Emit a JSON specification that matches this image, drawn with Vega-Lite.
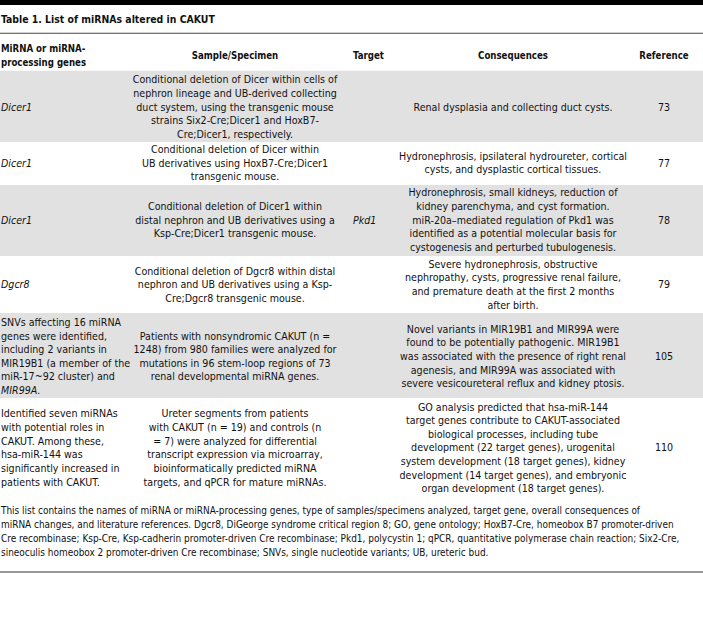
{
  "$schema": "https://vega.github.io/schema/vega-lite/v6.json",
  "width": 703,
  "height": 627,
  "padding": 0,
  "autosize": {"type": "none"},
  "background": "white",
  "config": {"view": {"stroke": null}},
  "datasets": {
    "bands": [
      {"kind": "topbar", "top": 0, "bottom": 0.37},
      {"kind": "shade", "top": 5.19, "bottom": 10.42},
      {"kind": "shade", "top": 13.57, "bottom": 18.78},
      {"kind": "shade", "top": 22.96, "bottom": 29.2}
    ],
    "rules": [
      {"kind": "under", "ln": 2.44},
      {"kind": "bottom", "ln": 41.97}
    ],
    "lines": [
      {"part": "title", "col": "c1", "x": 0.14, "ln": 1.45, "it": false, "text": "Table 1. List of miRNAs altered in CAKUT"},
      {"part": "head", "col": "c1", "x": 0.14, "ln": 3.6, "it": false, "text": "MiRNA or miRNA-"},
      {"part": "head", "col": "c1", "x": 0.14, "ln": 4.62, "it": false, "text": "processing genes"},
      {"part": "head", "col": "c2", "x": 33.43, "ln": 4.11, "it": false, "text": "Sample/Specimen"},
      {"part": "head", "col": "c3", "x": 50.21, "ln": 4.11, "it": false, "text": "Target"},
      {"part": "head", "col": "c4", "x": 72.97, "ln": 4.11, "it": false, "text": "Consequences"},
      {"part": "head", "col": "c5", "x": 94.45, "ln": 4.11, "it": false, "text": "Reference"},

      {"part": "body", "col": "c1", "x": 0.14, "ln": 7.89, "it": true, "text": "Dicer1"},
      {"part": "body", "col": "c2", "x": 33.43, "ln": 5.89, "it": false, "text": "Conditional deletion of Dicer within cells of"},
      {"part": "body", "col": "c2", "x": 33.43, "ln": 6.89, "it": false, "text": "nephron lineage and UB-derived collecting"},
      {"part": "body", "col": "c2", "x": 33.43, "ln": 7.89, "it": false, "text": "duct system, using the transgenic mouse"},
      {"part": "body", "col": "c2", "x": 33.43, "ln": 8.89, "it": false, "text": "strains Six2-Cre;Dicer1 and HoxB7-"},
      {"part": "body", "col": "c2", "x": 33.43, "ln": 9.89, "it": false, "text": "Cre;Dicer1, respectively."},
      {"part": "body", "col": "c4", "x": 72.97, "ln": 7.89, "it": false, "text": "Renal dysplasia and collecting duct cysts."},
      {"part": "body", "col": "c5", "x": 94.45, "ln": 7.89, "it": false, "text": "73"},

      {"part": "body", "col": "c1", "x": 0.14, "ln": 12.0, "it": true, "text": "Dicer1"},
      {"part": "body", "col": "c2", "x": 33.43, "ln": 11.0, "it": false, "text": "Conditional deletion of Dicer within"},
      {"part": "body", "col": "c2", "x": 33.43, "ln": 12.0, "it": false, "text": "UB derivatives using HoxB7-Cre;Dicer1"},
      {"part": "body", "col": "c2", "x": 33.43, "ln": 13.0, "it": false, "text": "transgenic mouse."},
      {"part": "body", "col": "c4", "x": 72.97, "ln": 11.5, "it": false, "text": "Hydronephrosis, ipsilateral hydroureter, cortical"},
      {"part": "body", "col": "c4", "x": 72.97, "ln": 12.5, "it": false, "text": "cysts, and dysplastic cortical tissues."},
      {"part": "body", "col": "c5", "x": 94.45, "ln": 12.0, "it": false, "text": "77"},

      {"part": "body", "col": "c1", "x": 0.14, "ln": 16.18, "it": true, "text": "Dicer1"},
      {"part": "body", "col": "c2", "x": 33.43, "ln": 15.18, "it": false, "text": "Conditional deletion of Dicer1 within"},
      {"part": "body", "col": "c2", "x": 33.43, "ln": 16.18, "it": false, "text": "distal nephron and UB derivatives using a"},
      {"part": "body", "col": "c2", "x": 33.43, "ln": 17.18, "it": false, "text": "Ksp-Cre;Dicer1 transgenic mouse."},
      {"part": "body", "col": "c3", "x": 50.21, "ln": 16.18, "it": true, "text": "Pkd1"},
      {"part": "body", "col": "c4", "x": 72.97, "ln": 14.18, "it": false, "text": "Hydronephrosis, small kidneys, reduction of"},
      {"part": "body", "col": "c4", "x": 72.97, "ln": 15.18, "it": false, "text": "kidney parenchyma, and cyst formation."},
      {"part": "body", "col": "c4", "x": 72.97, "ln": 16.18, "it": false, "text": "miR-20a–mediated regulation of Pkd1 was"},
      {"part": "body", "col": "c4", "x": 72.97, "ln": 17.18, "it": false, "text": "identified as a potential molecular basis for"},
      {"part": "body", "col": "c4", "x": 72.97, "ln": 18.18, "it": false, "text": "cystogenesis and perturbed tubulogenesis."},
      {"part": "body", "col": "c5", "x": 94.45, "ln": 16.18, "it": false, "text": "78"},

      {"part": "body", "col": "c1", "x": 0.14, "ln": 20.93, "it": true, "text": "Dgcr8"},
      {"part": "body", "col": "c2", "x": 33.43, "ln": 19.93, "it": false, "text": "Conditional deletion of Dgcr8 within distal"},
      {"part": "body", "col": "c2", "x": 33.43, "ln": 20.93, "it": false, "text": "nephron and UB derivatives using a Ksp-"},
      {"part": "body", "col": "c2", "x": 33.43, "ln": 21.93, "it": false, "text": "Cre;Dgcr8 transgenic mouse."},
      {"part": "body", "col": "c4", "x": 72.97, "ln": 19.43, "it": false, "text": "Severe hydronephrosis, obstructive"},
      {"part": "body", "col": "c4", "x": 72.97, "ln": 20.43, "it": false, "text": "nephropathy, cysts, progressive renal failure,"},
      {"part": "body", "col": "c4", "x": 72.97, "ln": 21.43, "it": false, "text": "and premature death at the first 2 months"},
      {"part": "body", "col": "c4", "x": 72.97, "ln": 22.43, "it": false, "text": "after birth."},
      {"part": "body", "col": "c5", "x": 94.45, "ln": 20.93, "it": false, "text": "79"},

      {"part": "body", "col": "c1", "x": 0.14, "ln": 23.69, "it": false, "text": "SNVs affecting 16 miRNA"},
      {"part": "body", "col": "c1", "x": 0.14, "ln": 24.69, "it": false, "text": "genes were identified,"},
      {"part": "body", "col": "c1", "x": 0.14, "ln": 25.69, "it": false, "text": "including 2 variants in"},
      {"part": "body", "col": "c1", "x": 0.14, "ln": 26.69, "it": false, "text": "MIR19B1 (a member of the"},
      {"part": "body", "col": "c1", "x": 0.14, "ln": 27.69, "it": false, "text": "miR-17~92 cluster) and"},
      {"part": "body", "col": "c1", "x": 0.14, "ln": 28.69, "it": true, "text": "MIR99A."},
      {"part": "body", "col": "c2", "x": 33.43, "ln": 24.69, "it": false, "text": "Patients with nonsyndromic CAKUT (n ="},
      {"part": "body", "col": "c2", "x": 33.43, "ln": 25.69, "it": false, "text": "1248) from 980 families were analyzed for"},
      {"part": "body", "col": "c2", "x": 33.43, "ln": 26.69, "it": false, "text": "mutations in 96 stem-loop regions of 73"},
      {"part": "body", "col": "c2", "x": 33.43, "ln": 27.69, "it": false, "text": "renal developmental miRNA genes."},
      {"part": "body", "col": "c4", "x": 72.97, "ln": 24.19, "it": false, "text": "Novel variants in MIR19B1 and MIR99A were"},
      {"part": "body", "col": "c4", "x": 72.97, "ln": 25.19, "it": false, "text": "found to be potentially pathogenic. MIR19B1"},
      {"part": "body", "col": "c4", "x": 72.97, "ln": 26.19, "it": false, "text": "was associated with the presence of right renal"},
      {"part": "body", "col": "c4", "x": 72.97, "ln": 27.19, "it": false, "text": "agenesis, and MIR99A was associated with"},
      {"part": "body", "col": "c4", "x": 72.97, "ln": 28.19, "it": false, "text": "severe vesicoureteral reflux and kidney ptosis."},
      {"part": "body", "col": "c5", "x": 94.45, "ln": 26.19, "it": false, "text": "105"},

      {"part": "body", "col": "c1", "x": 0.14, "ln": 30.4, "it": false, "text": "Identified seven miRNAs"},
      {"part": "body", "col": "c1", "x": 0.14, "ln": 31.4, "it": false, "text": "with potential roles in"},
      {"part": "body", "col": "c1", "x": 0.14, "ln": 32.4, "it": false, "text": "CAKUT. Among these,"},
      {"part": "body", "col": "c1", "x": 0.14, "ln": 33.4, "it": false, "text": "hsa-miR-144 was"},
      {"part": "body", "col": "c1", "x": 0.14, "ln": 34.4, "it": false, "text": "significantly increased in"},
      {"part": "body", "col": "c1", "x": 0.14, "ln": 35.4, "it": false, "text": "patients with CAKUT."},
      {"part": "body", "col": "c2", "x": 33.43, "ln": 30.4, "it": false, "text": "Ureter segments from patients"},
      {"part": "body", "col": "c2", "x": 33.43, "ln": 31.4, "it": false, "text": "with CAKUT (n = 19) and controls (n"},
      {"part": "body", "col": "c2", "x": 33.43, "ln": 32.4, "it": false, "text": "= 7) were analyzed for differential"},
      {"part": "body", "col": "c2", "x": 33.43, "ln": 33.4, "it": false, "text": "transcript expression via microarray,"},
      {"part": "body", "col": "c2", "x": 33.43, "ln": 34.4, "it": false, "text": "bioinformatically predicted miRNA"},
      {"part": "body", "col": "c2", "x": 33.43, "ln": 35.4, "it": false, "text": "targets, and qPCR for mature miRNAs."},
      {"part": "body", "col": "c4", "x": 72.97, "ln": 29.9, "it": false, "text": "GO analysis predicted that hsa-miR-144"},
      {"part": "body", "col": "c4", "x": 72.97, "ln": 30.9, "it": false, "text": "target genes contribute to CAKUT-associated"},
      {"part": "body", "col": "c4", "x": 72.97, "ln": 31.9, "it": false, "text": "biological processes, including tube"},
      {"part": "body", "col": "c4", "x": 72.97, "ln": 32.9, "it": false, "text": "development (22 target genes), urogenital"},
      {"part": "body", "col": "c4", "x": 72.97, "ln": 33.9, "it": false, "text": "system development (18 target genes), kidney"},
      {"part": "body", "col": "c4", "x": 72.97, "ln": 34.9, "it": false, "text": "development (14 target genes), and embryonic"},
      {"part": "body", "col": "c4", "x": 72.97, "ln": 35.9, "it": false, "text": "organ development (18 target genes)."},
      {"part": "body", "col": "c5", "x": 94.45, "ln": 32.9, "it": false, "text": "110"},

      {"part": "foot", "col": "c1", "x": 0.14, "ln": 37.5, "it": false, "text": "This list contains the names of miRNA or miRNA-processing genes, type of samples/specimens analyzed, target gene, overall consequences of"},
      {"part": "foot", "col": "c1", "x": 0.14, "ln": 38.53, "it": false, "text": "miRNA changes, and literature references. Dgcr8, DiGeorge syndrome critical region 8; GO, gene ontology; HoxB7-Cre, homeobox B7 promoter-driven"},
      {"part": "foot", "col": "c1", "x": 0.14, "ln": 39.56, "it": false, "text": "Cre recombinase; Ksp-Cre, Ksp-cadherin promoter-driven Cre recombinase; Pkd1, polycystin 1; qPCR, quantitative polymerase chain reaction; Six2-Cre,"},
      {"part": "foot", "col": "c1", "x": 0.14, "ln": 40.59, "it": false, "text": "sineoculis homeobox 2 promoter-driven Cre recombinase; SNVs, single nucleotide variants; UB, ureteric bud."}
    ]
  },
  "resolve": {"scale": {"x": "shared", "y": "shared"}},
  "layer": [
    {
      "data": {"name": "bands"},
      "mark": {"type": "rect"},
      "encoding": {
        "x": {"datum": 0, "type": "quantitative", "scale": {"domain": [0, 100], "range": [0, 703], "nice": false, "zero": false}, "axis": null},
        "x2": {"datum": 100},
        "y": {"field": "top", "type": "quantitative", "scale": {"domain": [0, 46], "range": [0, 627], "nice": false, "zero": false}, "axis": null},
        "y2": {"field": "bottom"},
        "color": {"field": "kind", "type": "nominal", "scale": {"domain": ["topbar", "shade"], "range": ["#000000", "#e1e1e1"]}, "legend": null}
      }
    },
    {
      "data": {"name": "rules"},
      "transform": [{"filter": "datum.kind === 'under'"}],
      "mark": {"type": "rule", "stroke": "#444444", "strokeWidth": 1},
      "encoding": {
        "x": {"datum": 0, "type": "quantitative"},
        "x2": {"datum": 100},
        "y": {"field": "ln", "type": "quantitative"}
      }
    },
    {
      "data": {"name": "rules"},
      "transform": [{"filter": "datum.kind === 'bottom'"}],
      "mark": {"type": "rule", "stroke": "#999999", "strokeWidth": 2},
      "encoding": {
        "x": {"datum": 0, "type": "quantitative"},
        "x2": {"datum": 100},
        "y": {"field": "ln", "type": "quantitative"}
      }
    },
    {
      "data": {"name": "lines"},
      "transform": [{"filter": "datum.part === 'title'"}],
      "mark": {"type": "text", "align": "left", "baseline": "middle", "font": "'DejaVu Sans Condensed', sans-serif", "fontSize": 10.4, "fontWeight": "bold", "color": "#111111"},
      "encoding": {
        "x": {"field": "x", "type": "quantitative"},
        "y": {"field": "ln", "type": "quantitative"},
        "text": {"field": "text"}
      }
    },
    {
      "data": {"name": "lines"},
      "transform": [{"filter": "datum.part === 'head' && (datum.col === 'c1' || datum.col === 'c3')"}],
      "mark": {"type": "text", "align": "left", "baseline": "middle", "font": "'DejaVu Sans Condensed', sans-serif", "fontSize": 9.6, "fontWeight": "bold", "color": "#111111"},
      "encoding": {
        "x": {"field": "x", "type": "quantitative"},
        "y": {"field": "ln", "type": "quantitative"},
        "text": {"field": "text"}
      }
    },
    {
      "data": {"name": "lines"},
      "transform": [{"filter": "datum.part === 'head' && datum.col !== 'c1' && datum.col !== 'c3'"}],
      "mark": {"type": "text", "align": "center", "baseline": "middle", "font": "'DejaVu Sans Condensed', sans-serif", "fontSize": 9.6, "fontWeight": "bold", "color": "#111111"},
      "encoding": {
        "x": {"field": "x", "type": "quantitative"},
        "y": {"field": "ln", "type": "quantitative"},
        "text": {"field": "text"}
      }
    },
    {
      "data": {"name": "lines"},
      "transform": [{"filter": "datum.part === 'body' && (datum.col === 'c1' || datum.col === 'c3') && !datum.it"}],
      "mark": {"type": "text", "align": "left", "baseline": "middle", "font": "'DejaVu Sans Condensed', sans-serif", "fontSize": 10.6, "color": "#111111"},
      "encoding": {
        "x": {"field": "x", "type": "quantitative"},
        "y": {"field": "ln", "type": "quantitative"},
        "text": {"field": "text"}
      }
    },
    {
      "data": {"name": "lines"},
      "transform": [{"filter": "datum.part === 'foot'"}],
      "mark": {"type": "text", "align": "left", "baseline": "middle", "font": "'DejaVu Sans Condensed', sans-serif", "fontSize": 9.95, "color": "#111111"},
      "encoding": {
        "x": {"field": "x", "type": "quantitative"},
        "y": {"field": "ln", "type": "quantitative"},
        "text": {"field": "text"}
      }
    },
    {
      "data": {"name": "lines"},
      "transform": [{"filter": "datum.part === 'body' && (datum.col === 'c1' || datum.col === 'c3') && datum.it"}],
      "mark": {"type": "text", "align": "left", "baseline": "middle", "font": "'DejaVu Sans Condensed', sans-serif", "fontSize": 10.6, "fontStyle": "italic", "color": "#111111"},
      "encoding": {
        "x": {"field": "x", "type": "quantitative"},
        "y": {"field": "ln", "type": "quantitative"},
        "text": {"field": "text"}
      }
    },
    {
      "data": {"name": "lines"},
      "transform": [{"filter": "datum.part === 'body' && datum.col !== 'c1' && datum.col !== 'c3'"}],
      "mark": {"type": "text", "align": "center", "baseline": "middle", "font": "'DejaVu Sans Condensed', sans-serif", "fontSize": 10.6, "color": "#111111"},
      "encoding": {
        "x": {"field": "x", "type": "quantitative"},
        "y": {"field": "ln", "type": "quantitative"},
        "text": {"field": "text"}
      }
    }
  ]
}
